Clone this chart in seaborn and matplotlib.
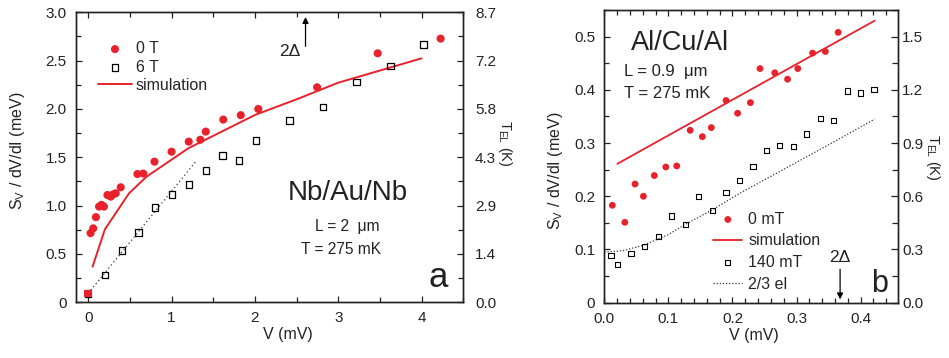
import matplotlib
matplotlib.use("Agg")
import matplotlib.pyplot as plt
from matplotlib.ticker import MultipleLocator, FixedLocator, FixedFormatter
import seaborn as sns
import numpy as np

# ---------------- data: panel a (Nb/Au/Nb) ----------------
a_v_0T = [0.028, 0.06, 0.092, 0.13, 0.16, 0.188, 0.23, 0.27, 0.30, 0.33, 0.39, 0.59, 0.66,
          0.795, 1.0, 1.206, 1.345, 1.41, 1.62, 1.83, 2.04, 2.746, 3.473, 4.228]
a_s_0T = [0.716, 0.765, 0.881, 0.99, 1.008, 0.99, 1.11, 1.093, 1.117, 1.128, 1.19, 1.327, 1.332,
          1.455, 1.558, 1.662, 1.682, 1.766, 1.89, 1.936, 2.0, 2.224, 2.576, 2.728]
a_v_0T_zero = [0.0]
a_s_0T_zero = [0.092]
a_v_6T = [0.0, 0.204, 0.403, 0.603, 0.802, 1.006, 1.21, 1.413, 1.609, 1.808, 2.012,
          2.415, 2.814, 3.218, 3.625, 4.024]
a_s_6T = [0.093, 0.283, 0.534, 0.724, 0.983, 1.117, 1.221, 1.362, 1.521, 1.466, 1.676,
          1.883, 2.021, 2.279, 2.445, 2.669]
a_v_sim = [0.052, 0.2, 0.49, 0.7, 1.2, 2.0, 2.5, 3.0, 4.0]
a_s_sim = [0.369, 0.755, 1.128, 1.30, 1.593, 1.938, 2.10, 2.272, 2.524]
a_v_fit = [0.0, 1.3]
a_s_fit = [0.093, 1.466]
a_left_ticks = [0, 0.5, 1.0, 1.5, 2.0, 2.5, 3.0]
a_left_labels = ["0", "0.5", "1.0", "1.5", "2.0", "2.5", "3.0"]
a_right_labels = ["0.0", "1.4", "2.9", "4.3", "5.8", "7.2", "8.7"]
a_gap_v = 2.607

# ---------------- data: panel b (Al/Cu/Al) ----------------
b_v_0mT = [0.0125, 0.032, 0.048, 0.061, 0.078, 0.096, 0.113, 0.134, 0.153, 0.167, 0.19, 0.208,
           0.228, 0.243, 0.266, 0.286, 0.302, 0.325, 0.345, 0.365]
b_s_0mT = [0.183, 0.151, 0.223, 0.2, 0.239, 0.255, 0.257, 0.324, 0.312, 0.329, 0.38, 0.356,
           0.376, 0.44, 0.432, 0.42, 0.44, 0.469, 0.472, 0.508]
b_v_140 = [0.0104, 0.0208, 0.0417, 0.063, 0.084, 0.105, 0.127, 0.147, 0.169, 0.19, 0.211,
           0.232, 0.253, 0.274, 0.295, 0.316, 0.3375, 0.358, 0.379, 0.4, 0.421]
b_s_140 = [0.089, 0.072, 0.092, 0.105, 0.125, 0.163, 0.147, 0.199, 0.174, 0.207, 0.229,
           0.256, 0.286, 0.296, 0.294, 0.317, 0.346, 0.342, 0.398, 0.394, 0.401]
b_v_sim = [0.0203, 0.422]
b_s_sim = [0.261, 0.530]
b_v_el = [0.0, 0.03, 0.061, 0.1, 0.129, 0.168, 0.212, 0.27, 0.32, 0.37, 0.422]
b_s_el = [0.095, 0.098, 0.108, 0.128, 0.149, 0.174, 0.206, 0.244, 0.277, 0.31, 0.345]
b_left_ticks = [0, 0.1, 0.2, 0.3, 0.4, 0.5]
b_left_labels = ["0", "0.1", "0.2", "0.3", "0.4", "0.5"]
b_right_labels = ["0.0", "0.3", "0.6", "0.9", "1.2", "1.5"]
b_x_ticks = [0.0, 0.1, 0.2, 0.3, 0.4]
b_gap_v = 0.368

# ---------------- style ----------------
sns.set_theme(style="ticks")
plt.rcParams["font.family"] = ["Liberation Sans", "DejaVu Sans"]
plt.rcParams["mathtext.fontset"] = "custom"
plt.rcParams["mathtext.rm"] = "Liberation Sans"
plt.rcParams["axes.linewidth"] = 1.0
plt.rcParams["axes.edgecolor"] = "#222222"
RED = "#e8212b"
INK = "#222222"
FS_TICK = 11
FS_LAB = 11.5

fig = plt.figure(figsize=(9.49, 3.58), dpi=100)
axA = fig.add_axes([0.0798, 0.1556, 0.4084, 0.81])
axB = fig.add_axes([0.6368, 0.1545, 0.3092, 0.8175])


def style_axes(ax, xmaj, xmin, ymin):
    ax.xaxis.set_major_locator(MultipleLocator(xmaj))
    ax.xaxis.set_minor_locator(MultipleLocator(xmin))
    ax.yaxis.set_minor_locator(MultipleLocator(ymin))
    ax.tick_params(which="both", direction="in", top=True, right=False, colors=INK,
                   labelcolor=INK, labelsize=FS_TICK)
    ax.tick_params(which="major", length=4.5, width=0.9)
    ax.tick_params(which="minor", length=3.5, width=0.9)
    ax.tick_params(axis="x", pad=6.5)
    ax.tick_params(axis="y", pad=6.5)


# ================= panel a =================
ax = axA
sns.lineplot(x=a_v_fit, y=a_s_fit, ax=ax, color="#333333", lw=0.9, linestyle=(0, (1, 2.2)),
             estimator=None, sort=False)
sns.lineplot(x=a_v_sim, y=a_s_sim, ax=ax, color=RED, lw=1.4, estimator=None, sort=False,
             label="simulation")
sns.scatterplot(x=a_v_6T, y=a_s_6T, ax=ax, marker="s", s=22, facecolor="none",
                edgecolor="black", linewidth=0.9, label="6 T", zorder=3)
sns.scatterplot(x=a_v_0T, y=a_s_0T, ax=ax, marker="o", s=34, color=RED, edgecolor="none",
                label="0 T", zorder=4)
sns.scatterplot(x=a_v_0T_zero, y=a_s_0T_zero, ax=ax, marker="s", s=30, color=RED,
                edgecolor="none", zorder=5)
ax.set_xlim(-0.15, 4.5)
ax.set_ylim(0, 3.0)
style_axes(ax, 1, 0.5, 0.25)
ax.yaxis.set_major_locator(FixedLocator(a_left_ticks))
ax.yaxis.set_major_formatter(FixedFormatter(a_left_labels))
ax.set_xlabel("V (mV)", fontsize=FS_LAB, color=INK)
ax.set_ylabel(r"S$_\mathregular{V}$ / dV/dI (meV)", fontsize=FS_LAB, color=INK)
ax.xaxis.set_label_coords(0.548, -0.085)
ax.yaxis.set_label_coords(-0.125, 0.523)

h, l = ax.get_legend_handles_labels()
d = dict(zip(l, h))
ax.legend([d["0 T"], d["6 T"], d["simulation"]], ["0 T", "6 T", "simulation"],
          loc="upper left", bbox_to_anchor=(0.058, 0.90), frameon=False, fontsize=FS_LAB,
          handlelength=2.1, handletextpad=0.25, labelspacing=0.2, borderpad=0,
          borderaxespad=0)

ax.annotate("", xy=(a_gap_v, 2.98), xytext=(a_gap_v, 2.62),
            arrowprops=dict(arrowstyle="-|>", color="black", lw=0.9, mutation_scale=9))
ax.text(a_gap_v - 0.06, 2.55, "2\u0394", ha="right", va="baseline", fontsize=12.5, color=INK)
ax.text(3.11, 1.058, "Nb/Au/Nb", ha="center", va="baseline", fontsize=20, color=INK)
ax.text(2.718, 0.741, "L = 2  \u03bcm", ha="left", va="baseline", fontsize=11.2, color=INK)
ax.text(2.558, 0.50, "T = 275 mK", ha="left", va="baseline", fontsize=11.2, color=INK)
ax.text(4.197, 0.161, "a", ha="center", va="baseline", fontsize=25, color=INK)

axA2 = ax.twinx()
axA2.set_ylim(0, 3.0)
axA2.yaxis.set_major_locator(FixedLocator(a_left_ticks))
axA2.yaxis.set_major_formatter(FixedFormatter(a_right_labels))
axA2.yaxis.set_minor_locator(MultipleLocator(0.25))
axA2.tick_params(which="both", direction="in", labelsize=FS_TICK, colors=INK, pad=8.5)
axA2.tick_params(which="major", length=4.5, width=0.9)
axA2.tick_params(which="minor", length=3.5, width=0.9)
axA2.set_ylabel(r"T$_\mathregular{EL}$ (K)", rotation=270, fontsize=FS_LAB - 1, color=INK)
axA2.yaxis.set_label_coords(1.13, 0.548)

# ================= panel b =================
ax = axB
sns.lineplot(x=b_v_el, y=b_s_el, ax=ax, color="#333333", lw=0.9, linestyle=(0, (1, 1.5)),
             estimator=None, sort=False, label="2/3 el")
sns.lineplot(x=b_v_sim, y=b_s_sim, ax=ax, color=RED, lw=1.3, estimator=None, sort=False,
             label="simulation")
sns.scatterplot(x=b_v_140, y=b_s_140, ax=ax, marker="s", s=14, facecolor="none",
                edgecolor="black", linewidth=0.8, label="140 mT", zorder=3)
sns.scatterplot(x=b_v_0mT, y=b_s_0mT, ax=ax, marker="o", s=24, color=RED, edgecolor="none",
                label="0 mT", zorder=4)
ax.set_xlim(0, 0.458)
ax.set_ylim(0, 0.55)
style_axes(ax, 0.1, 0.02, 0.05)
ax.xaxis.set_major_locator(FixedLocator(b_x_ticks))
ax.xaxis.set_major_formatter(FixedFormatter(["%.1f" % t for t in b_x_ticks]))
ax.yaxis.set_major_locator(FixedLocator(b_left_ticks))
ax.yaxis.set_major_formatter(FixedFormatter(b_left_labels))
ax.set_xlabel("V (mV)", fontsize=FS_LAB, color=INK)
ax.set_ylabel(r"S$_\mathregular{V}$ / dV/dI (meV)", fontsize=FS_LAB, color=INK)
ax.xaxis.set_label_coords(0.51, -0.085)
ax.yaxis.set_label_coords(-0.135, 0.45)

h, l = ax.get_legend_handles_labels()
d = dict(zip(l, h))
ax.legend([d["0 mT"], d["simulation"], d["140 mT"], d["2/3 el"]],
          ["0 mT", "simulation", "140 mT", "2/3 el"],
          loc="upper left", bbox_to_anchor=(0.372, 0.311), frameon=False, fontsize=FS_LAB,
          handlelength=1.8, handletextpad=0.37, labelspacing=0.42, borderpad=0,
          borderaxespad=0)

ax.annotate("", xy=(b_gap_v, 0.001), xytext=(b_gap_v, 0.068),
            arrowprops=dict(arrowstyle="-|>", color="black", lw=0.9, mutation_scale=9))
ax.text(b_gap_v, 0.076, "2\u0394", ha="center", va="baseline", fontsize=12.5, color=INK)
ax.text(0.0411, 0.475, "Al/Cu/Al", ha="left", va="baseline", fontsize=19.5, color=INK)
ax.text(0.0307, 0.4267, "L = 0.9  \u03bcm", ha="left", va="baseline", fontsize=12, color=INK)
ax.text(0.0307, 0.385, "T = 275 mK", ha="left", va="baseline", fontsize=12, color=INK)
ax.text(0.43, 0.0206, "b", ha="center", va="baseline", fontsize=22, color=INK)

axB2 = ax.twinx()
axB2.set_ylim(0, 0.55)
axB2.yaxis.set_major_locator(FixedLocator(b_left_ticks))
axB2.yaxis.set_major_formatter(FixedFormatter(b_right_labels))
axB2.yaxis.set_minor_locator(MultipleLocator(0.05))
axB2.tick_params(which="both", direction="in", labelsize=FS_TICK, colors=INK, pad=3)
axB2.tick_params(which="major", length=5, width=0.9)
axB2.tick_params(which="minor", length=4, width=0.9)
axB2.set_ylabel(r"T$_\mathregular{EL}$ (K)", rotation=270, fontsize=FS_LAB - 1, color=INK)
axB2.yaxis.set_label_coords(1.15, 0.496)

fig.savefig("out.png", dpi=100)
